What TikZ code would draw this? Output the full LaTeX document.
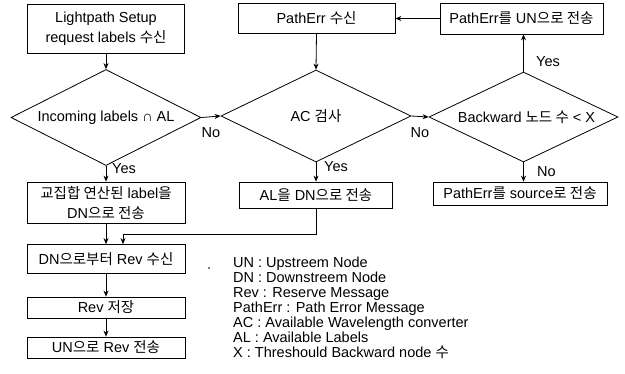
\documentclass[tikz,border=0pt]{standalone}
\usepackage{fontspec}
\setmainfont{Liberation Sans}
\newfontfamily\krfont{Noto Sans CJK KR}
\newcommand\K[1]{{\krfont #1}}
\usetikzlibrary{shapes.geometric,arrows.meta}
\begin{document}
\begin{tikzpicture}[x=1pt,y=-1pt,
  every node/.style={font=\fontsize{14.5}{20}\selectfont},
  box/.style={draw, line width=0.8pt, inner sep=0pt, align=center},
  dia/.style={draw, diamond, line width=0.8pt, inner sep=0pt},
  txt/.style={inner sep=0pt, align=center},
  lab/.style={inner sep=0pt, anchor=west},
  leg/.style={inner sep=0pt, anchor=base west},
  arr/.style={line width=0.8pt, -{Stealth[length=6pt,width=5pt]}}]
\useasboundingbox (0,0) rectangle (625,373);
% left column
\node[box, minimum width=157, minimum height=49] (b1) at (106,28.5) {Lightpath Setup\\request labels \K{수신}};
\node[dia, minimum width=190, minimum height=96] (d1) at (106,117.5) {};
\node[txt] (d1t) at (d1) {Incoming labels ∩ AL};
\node[box, minimum width=158, minimum height=41] (b2) at (106,202.5) {\K{교집합 연산된} label\K{을}\\DN\K{으로 전송}};
\node[box, minimum width=158, minimum height=29] (b3) at (106,259) {DN\K{으로부터} Rev \K{수신}};
\node[box, minimum width=158, minimum height=21] (b4) at (106,307.5) {Rev \K{저장}};
\node[box, minimum width=158, minimum height=21] (b5) at (106,347.5) {UN\K{으로} Rev \K{전송}};
% middle column
\node[box, minimum width=157, minimum height=30] (pr) at (316.5,18.5) {PathErr \K{수신}};
\node[dia, minimum width=190, minimum height=92] (d2) at (316,116) {};
\node[txt] (d2t) at (d2) {AC \K{검사}};
\node[box, minimum width=153, minimum height=26] (al) at (316,195) {AL\K{을} DN\K{으로 전송}};
% right column
\node[box, minimum width=163, minimum height=31] (pu) at (521.5,18.5) {PathErr\K{를} UN\K{으로 전송}};
\node[dia, minimum width=189, minimum height=90] (d3) at (523.5,117) {};
\node[txt] (d3t) at ([xshift=3]d3) {Backward \K{노드 수} < X};
\node[box, minimum width=174, minimum height=23] (ps) at (520,193.5) {PathErr\K{를} source\K{로 전송}};
% labels
\node[txt] (no1) at (211,133) {No};
\node[txt] (no2) at (420,133) {No};
\node[lab] (y1) at (112,169) {Yes};
\node[lab] (y2) at (324,167) {Yes};
\node[lab] (y3) at (536,62) {Yes};
\node[lab] (no3) at (537,172) {No};
% legend
\node[leg] (l1) at (233,267) {UN : Upstreem Node};
\node[leg] (l2) at (233,282) {DN : Downstreem Node};
\node[leg] (l3) at (233,297) {Rev : Reserve Message};
\node[leg] (l4) at (233,312) {PathErr : Path Error Message};
\node[leg] (l5) at (233,327) {AC : Available Wavelength converter};
\node[leg] (l6) at (233,342) {AL : Available Labels};
\node[leg] (l7) at (233,357) {X : Threshould Backward node \K{수}};
\node[circle, fill, inner sep=0.7pt] (dot) at (209,268) {};
% connectors
\draw[arr] (b1.south) -- (d1.north);
\draw[arr] (d1.south) -- (b2.north);
\draw[arr] (d1.east) -- (d2.west);
\draw[arr] (b2.south) -- (b3.north);
\draw[arr] (b3.south) -- (b4.north);
\draw[arr] (b4.south) -- (b5.north);
\draw[arr] (pr.south) -- (d2.north);
\draw[arr] (d2.south) -- (al.north);
\draw[arr] (d2.east) -- (d3.west);
\draw[arr] (d3.north) -- (d3.north |- pu.south);
\draw[arr] (pu.west) -- (pr.east);
\draw[arr] (d3.south) -- (d3.south |- ps.north);
\coordinate (j) at (123,234);
\draw[arr] (al.south) |- (j) -- (j |- b3.north);
\end{tikzpicture}
\end{document}
